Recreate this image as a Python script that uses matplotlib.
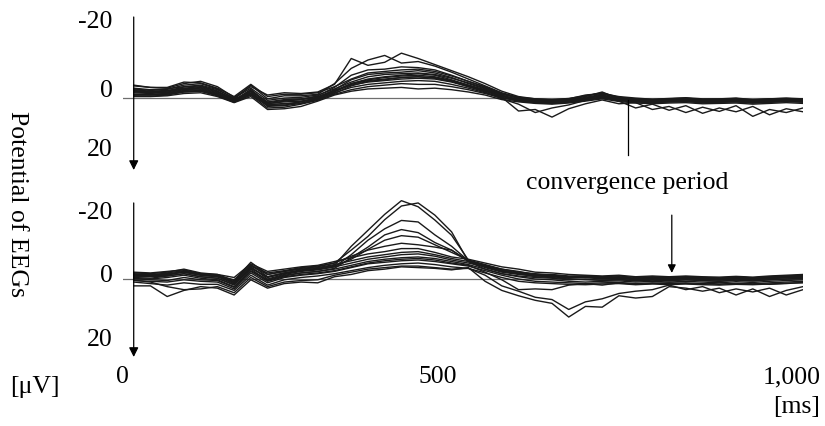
import matplotlib
matplotlib.use("Agg")
import matplotlib.pyplot as plt
from matplotlib.transforms import offset_copy

plt.rcParams['font.family'] = ['Liberation Serif', 'DejaVu Serif']

# sample times of the averaged EEG epochs [ms]
times = list(range(0, 1001, 25))

# upper panel: averaged EEGs, one list per trace [uV] (negative is drawn upward)
top_eeg = [
    [-3.2,-2.8,-2.6,-3.8,-4.4,-3.0,-0.2,-3.0,-0.8,-1.4,-1.2,-1.6,-3.6,-10.4,-8.6,-9.4,-11.8,-10.4,-8.8,-7.2,-5.6,-3.8,-1.8,-0.4,0.2,0.4,0.1,-0.6,-1.2,0.0,0.3,0.5,0.2,0.0,0.4,0.3,0.1,0.5,0.2,0.1,0.3],
    [-2.4,-2.0,-2.3,-3.4,-3.8,-2.4,0.3,-3.4,0.2,-0.6,-0.6,-1.0,-3.8,-7.8,-10.0,-11.2,-9.2,-9.6,-8.4,-6.8,-5.0,-3.2,-1.4,-0.2,0.4,0.6,0.3,-0.4,-1.6,0.2,0.5,0.7,0.4,0.5,0.8,0.5,0.6,0.7,0.4,0.5,0.6],
    [-1.8,-1.6,-1.9,-2.9,-3.2,-1.9,0.7,-2.3,1.5,0.8,0.4,-0.6,-2.8,-6.0,-7.4,-7.6,-8.2,-8.0,-7.4,-6.0,-4.4,-2.8,-1.2,0.1,0.6,0.9,0.6,-0.2,-1.0,-0.2,0.4,0.7,0.5,0.4,0.7,0.6,0.5,0.8,0.6,0.4,0.6],
    [-1.4,-1.2,-1.6,-2.4,-2.6,-1.4,1.0,-1.7,2.2,1.9,0.9,-0.1,-2.2,-4.8,-6.2,-6.6,-6.8,-7.2,-6.6,-5.4,-3.8,-2.4,-0.8,0.5,1.0,1.4,1.0,0.6,-0.4,0.4,0.9,1.2,0.9,0.8,1.1,0.9,0.8,1.1,0.9,0.7,0.9],
    [-1.0,-0.8,-1.2,-2.0,-2.2,-1.0,0.9,-1.2,1.8,1.4,1.3,0.3,-1.6,-3.8,-5.0,-5.6,-6.0,-6.4,-6.0,-4.8,-3.4,-2.0,-0.2,3.4,3.0,5.0,2.8,1.5,0.5,1.5,1.2,3.0,2.2,3.8,2.4,3.5,2.0,4.8,3.0,3.8,2.6],
    [-0.6,-0.5,-0.8,-1.6,-1.8,-0.6,1.1,-0.8,2.6,2.4,1.6,0.6,-1.2,-3.2,-4.4,-4.8,-5.4,-5.6,-5.4,-4.4,-3.0,-1.6,0.2,1.6,3.8,2.6,1.8,0.6,-0.4,0.8,2.6,1.6,3.2,2.0,4.0,2.6,3.6,2.2,4.4,2.8,3.6],
    [-2.6,-2.2,-2.4,-3.0,-3.4,-2.2,0.0,-2.6,0.6,0.0,-0.2,-0.8,-2.4,-4.2,-5.6,-6.2,-6.4,-6.6,-6.2,-5.2,-4.0,-2.6,-1.0,0.0,0.5,0.7,0.4,-0.6,-1.4,-0.2,0.2,0.4,0.3,0.2,0.5,0.4,0.3,0.6,0.4,0.3,0.5],
    [-2.2,-1.8,-2.0,-2.6,-3.0,-1.8,0.4,-2.0,1.0,0.4,0.2,-0.4,-2.0,-3.8,-4.8,-5.4,-5.8,-6.0,-5.6,-4.6,-3.4,-2.2,-0.6,0.3,0.8,1.0,0.7,0.0,-0.8,0.2,0.6,0.8,0.6,0.5,0.8,0.7,0.6,0.9,0.7,0.5,0.7],
    [-1.6,-1.4,-1.4,-2.2,-2.4,-1.2,0.6,-1.4,1.4,1.0,0.8,0.0,-1.8,-3.4,-4.2,-4.6,-5.0,-5.2,-5.0,-4.2,-3.0,-1.8,-0.4,0.6,1.0,1.2,0.9,0.2,-0.6,0.5,0.8,1.0,0.8,0.7,1.0,0.9,0.8,1.1,0.9,0.7,0.9],
    [-1.0,-1.0,-1.2,-1.8,-2.0,-1.0,0.8,-1.0,1.6,1.6,1.0,0.2,-1.4,-2.8,-3.6,-4.0,-4.4,-4.6,-4.4,-3.6,-2.6,-1.4,-0.2,0.8,1.2,1.4,1.1,0.4,-0.2,0.7,1.0,1.2,1.0,0.9,1.2,1.1,1.0,1.3,1.1,0.9,1.1],
    [-0.4,-0.4,-0.6,-1.2,-1.4,-0.4,1.2,-0.4,3.0,2.8,2.2,0.8,-0.8,-1.8,-2.4,-2.6,-2.8,-2.4,-2.6,-2.2,-1.6,-0.8,0.4,1.0,1.4,1.6,1.3,0.8,0.2,0.9,1.3,1.5,1.3,1.2,1.5,1.4,1.3,1.6,1.4,1.2,1.4],
    [-3.4,-2.8,-2.8,-4.2,-4.0,-2.6,-0.4,-3.6,-0.4,-1.0,-1.0,-1.4,-3.0,-5.0,-6.6,-7.0,-7.4,-7.6,-7.0,-5.8,-4.4,-3.0,-1.2,-0.2,0.2,0.5,0.2,-0.8,-1.2,-0.4,0.0,0.3,0.1,-0.1,0.2,0.2,0.0,0.4,0.2,0.0,0.2],
    [-2.0,-1.6,-1.8,-2.4,-2.8,-1.6,0.5,-1.8,1.2,0.6,0.4,-0.2,-1.8,-3.6,-4.6,-5.0,-5.4,-5.6,-5.2,-4.4,-3.2,-2.0,-0.6,0.4,0.9,1.1,0.8,0.1,-0.7,0.3,0.7,0.9,0.7,0.6,0.9,0.8,0.7,1.0,0.8,0.6,0.8],
    [-0.8,-0.8,-1.0,-1.6,-1.8,-0.8,1.0,-0.8,2.0,2.0,1.4,0.4,-1.0,-2.2,-3.0,-3.4,-3.8,-3.6,-3.6,-3.0,-2.2,-1.2,0.0,0.7,1.2,1.3,1.0,0.6,0.0,0.6,1.0,1.2,1.0,0.9,1.2,1.1,1.0,1.3,1.1,0.9,1.0],
]

# lower panel traces [uV]
bottom_eeg = [
    [-1.2,-1.0,-1.6,-2.2,-1.2,-0.8,0.8,-3.8,-0.6,-1.6,-2.4,-2.8,-3.6,-8.6,-12.8,-17.0,-20.6,-19.0,-15.5,-11.5,-5.0,-3.8,-2.6,-1.8,-1.4,-1.0,-0.6,-0.8,-0.4,-0.6,-0.2,-0.5,-0.3,-0.6,-0.4,-0.2,-0.5,-0.3,-0.6,-0.8,-0.9],
    [-1.6,-1.4,-1.8,-2.6,-1.6,-1.2,0.4,-4.4,-1.2,-2.0,-2.8,-3.2,-4.2,-7.6,-11.2,-15.6,-19.2,-20.0,-16.8,-12.4,-4.6,-3.4,-2.2,-1.4,-1.0,-0.8,-0.4,-0.6,-0.2,-0.4,0.0,-0.3,-0.1,-0.4,-0.2,0.0,-0.3,-0.1,-0.4,-0.6,-0.7],
    [-0.8,-0.8,-1.2,-1.8,-1.0,-0.6,1.2,-3.2,0.0,-1.2,-2.0,-2.4,-3.2,-6.4,-10.2,-13.2,-15.4,-15.0,-11.6,-8.6,-4.8,-3.0,-1.8,-1.2,-0.8,-0.6,-0.2,-0.4,0.0,-0.2,0.2,0.0,0.2,-0.1,0.1,0.3,0.0,0.2,-0.1,-0.3,-0.4],
    [-0.4,-0.2,-0.8,-1.4,-0.6,-0.2,1.6,-2.6,0.4,-0.8,-1.6,-2.0,-2.8,-5.6,-8.4,-11.6,-13.0,-12.2,-9.6,-7.6,-4.6,-2.6,-1.4,-0.8,-0.4,-0.2,0.2,0.0,0.4,0.2,0.5,0.3,0.5,0.2,0.4,0.6,0.3,0.5,0.2,0.0,-0.1],
    [-1.0,-0.8,-1.0,-2.0,-1.4,-1.0,1.0,-3.0,-0.4,-1.4,-2.2,-2.6,-3.4,-5.2,-7.8,-10.2,-11.4,-11.0,-9.0,-7.0,-5.0,-3.2,-2.0,-1.4,-1.0,-0.8,-0.4,-0.6,-0.2,-0.4,0.0,-0.2,0.0,-0.3,-0.1,0.1,-0.2,0.0,-0.3,-0.5,-0.6],
    [-1.8,-1.6,-2.0,-2.4,-1.4,-1.2,-0.4,-4.0,-2.0,-2.6,-3.2,-3.6,-4.6,-5.6,-6.6,-7.2,-8.0,-8.0,-7.0,-5.8,-5.2,-4.2,-3.2,-2.6,-1.8,-1.6,-1.2,-1.0,-0.8,-1.0,-0.6,-0.8,-0.6,-0.8,-0.6,-0.5,-0.7,-0.5,-0.8,-1.0,-1.2],
    [-1.2,-1.2,-1.4,-1.8,-1.0,-0.6,0.6,-3.4,-1.2,-2.0,-2.6,-3.0,-3.8,-4.8,-5.8,-6.4,-7.0,-7.2,-6.4,-5.4,-4.6,-3.6,-2.6,-2.0,-1.2,-1.0,-0.6,-0.4,-0.2,-0.4,0.0,-0.2,0.0,-0.2,0.0,0.2,-0.1,0.1,-0.2,-0.4,-0.5],
    [-0.6,-0.6,-0.8,-1.4,-0.6,-0.2,1.4,-2.8,-0.6,-1.6,-2.2,-2.6,-3.2,-4.2,-5.2,-5.8,-6.4,-6.6,-6.0,-5.0,-4.2,-3.2,-2.2,-1.4,-0.6,-0.4,0.0,0.2,0.3,0.1,0.4,0.2,0.4,0.2,0.4,0.6,0.3,0.5,0.2,0.0,-0.2],
    [0.0,0.0,-0.4,-1.0,-0.2,0.2,2.0,-2.2,0.2,-1.0,-1.6,-2.0,-2.6,-3.6,-4.6,-5.2,-5.6,-5.8,-5.4,-4.6,-3.8,-2.6,-1.4,-0.6,0.0,0.2,0.6,0.8,0.6,0.5,0.8,0.6,0.8,0.6,0.8,1.0,0.7,0.9,0.6,0.4,0.2],
    [0.4,0.6,0.8,0.2,0.6,0.8,2.6,-1.6,1.0,-0.4,-1.0,-1.4,-2.0,-3.0,-4.0,-4.4,-4.8,-5.0,-4.6,-4.0,-3.4,-2.2,-1.0,0.0,0.6,0.8,1.0,1.2,1.0,0.9,1.2,1.0,1.2,1.0,1.2,1.4,1.1,1.3,1.0,0.8,0.6],
    [0.8,1.2,1.6,1.0,1.4,1.4,3.0,-1.0,1.6,0.2,-0.4,-0.8,-1.4,-2.2,-3.0,-3.6,-4.0,-4.2,-3.8,-3.2,-2.8,-1.6,-0.4,0.6,1.0,1.2,1.4,1.5,1.3,1.2,1.5,1.3,1.5,1.3,1.5,1.6,1.4,1.5,1.3,1.1,1.0],
    [0.3,0.8,2.0,2.8,2.6,2.0,3.6,-0.4,2.0,0.8,0.4,0.2,-1.0,-1.8,-2.6,-3.0,-3.4,-3.4,-3.0,-2.6,-2.8,-1.0,1.8,3.2,4.8,5.4,8.0,6.0,5.2,3.8,3.2,2.8,1.6,2.8,2.0,3.6,2.6,3.4,2.4,4.2,2.8],
    [1.8,1.8,4.6,3.0,2.0,2.4,4.2,0.2,2.4,1.2,0.8,1.0,-0.6,-1.2,-2.2,-2.6,-3.2,-3.0,-2.8,-2.4,-3.0,0.6,3.0,4.4,5.6,6.4,10.0,7.2,7.4,4.4,5.0,4.6,2.0,2.4,3.2,2.4,4.2,2.6,4.6,3.0,2.0],
    [-0.2,0.2,0.4,-0.4,0.2,0.4,2.2,-2.0,0.6,-0.6,-1.2,-1.6,-2.2,-3.2,-4.2,-4.8,-5.2,-5.4,-5.0,-4.2,-3.6,-1.8,0.2,2.8,2.6,2.8,1.6,1.2,1.6,1.0,1.4,1.2,1.0,1.2,1.4,1.0,1.3,1.1,1.4,1.2,0.9],
    [-1.4,-1.0,-1.2,-2.0,-1.2,-0.8,0.2,-3.6,-1.6,-2.2,-3.0,-3.4,-4.2,-6.0,-7.6,-8.6,-9.4,-9.0,-8.4,-7.6,-4.8,-3.6,-2.4,-1.6,-1.2,-1.2,-0.8,-0.8,-0.6,-0.8,-0.4,-0.6,-0.4,-0.6,-0.4,-0.3,-0.5,-0.3,-0.6,-0.8,-1.0],
]

y_ticks = [-20, 0, 20]
y_tick_labels = ['-20', '0', '20']
x_ticks = [0, 500, 1000]
x_tick_labels = ['0', '500', '1,000']

# where the convergence period is marked in each panel [ms]
conv_top_ms = 738
conv_bottom_ms = 804

FS = 18.5
trace_color = '#1a1a1a'

fig = plt.figure(figsize=(8.25, 4.26), dpi=100)
ax_top = fig.add_axes([0.1491, 0.6009, 0.8242, 0.3592])
ax_bot = fig.add_axes([0.1491, 0.1620, 0.8242, 0.3732])

panels = [
    (ax_top, top_eeg, (18.9, -21.3), -21.3, [0, 7, 24]),
    (ax_bot, bottom_eeg, (20.5, -21.3), -20.0, [-10, 3, 15]),
]

for ax, traces, ylims, line_top, label_dy in panels:
    ax.set_xlim(-16, 1000)
    ax.set_ylim(*ylims)
    for s in ax.spines.values():
        s.set_visible(False)
    ax.set_xticks([])
    ax.set_yticks([])
    # zero baseline
    ax.plot([-16, 1000], [0, 0], color='#6e6e6e', lw=0.9, zorder=1)
    for tr in traces:
        ax.plot(times, tr, color=trace_color, lw=1.0, zorder=2)
    # downward arrow used as the potential axis
    ax.annotate('', xy=(0, ylims[0]), xytext=(0, line_top),
                arrowprops=dict(arrowstyle='-|>', color='black', lw=0.9,
                                mutation_scale=14, shrinkA=0, shrinkB=0),
                annotation_clip=False)
    for val, lab, dy in zip(y_ticks, y_tick_labels, label_dy):
        tr = offset_copy(ax.transData, fig=fig, x=-21, y=dy, units='dots')
        ax.text(0, val, lab, transform=tr, ha='right', va='center',
                fontsize=FS, clip_on=False)

# time labels under the lower panel
x_dx = [-11, -31, -11]
for val, lab, dx in zip(x_ticks, x_tick_labels, x_dx):
    tr = offset_copy(ax_bot.transData, fig=fig, x=dx, y=-20, units='dots')
    ax_bot.text(val, ylims[0], lab, transform=tr, ha='center', va='center',
                fontsize=FS, clip_on=False)

# convergence period markers
ax_top.plot([conv_top_ms, conv_top_ms], [0.6, 15.0], color='black', lw=0.9)
ax_top.text(conv_top_ms, 22.3, 'convergence period', ha='center', va='center',
            fontsize=FS, clip_on=False)
ax_bot.annotate('', xy=(conv_bottom_ms, -1.6), xytext=(conv_bottom_ms, -16.8),
                arrowprops=dict(arrowstyle='-|>', color='black', lw=0.9,
                                mutation_scale=12, shrinkA=0, shrinkB=0))

fig.text(0.021, 1 - 204 / 426, 'Potential of EEGs', rotation=270,
         ha='center', va='center', fontsize=FS)
fig.text(35 / 825, 1 - 387 / 426, '[\u03bcV]', ha='center', va='center', fontsize=FS)
fig.text(820 / 825, 1 - 407 / 426, '[ms]', ha='right', va='center', fontsize=FS)

fig.savefig('out.png', dpi=100)
